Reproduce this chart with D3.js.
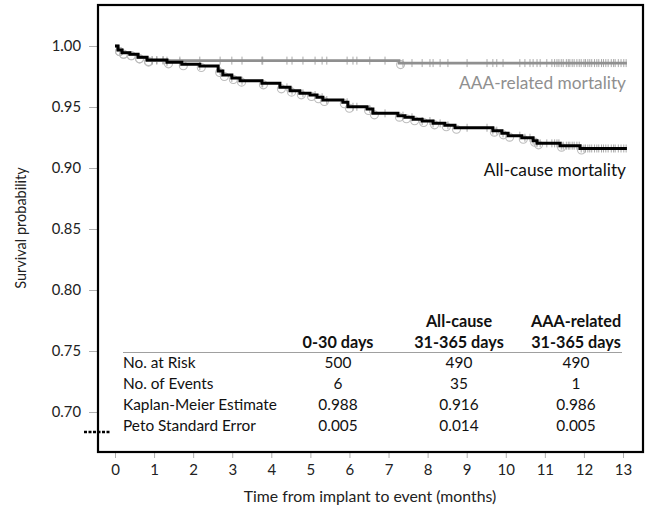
<!DOCTYPE html>
<html><head><meta charset="utf-8">
<script src="https://cdn.jsdelivr.net/npm/d3@7/dist/d3.min.js"></script>
<style>body{margin:0;background:#fff}svg{display:block}text{font-family:Lato,"Open Sans",sans-serif}</style>
</head><body>
<svg id="c" width="651" height="511"></svg>
<script>
// ---- data ----
const allCause = [[0,1.000],[0.077,0.9967],[0.18,0.9945],[0.38,0.9932],[0.59,0.9907],[0.82,0.9885],[1.33,0.9866],[1.71,0.9850],[2.17,0.9836],[2.64,0.9795],[2.76,0.9762],[2.99,0.9738],[3.20,0.9716],[3.76,0.9694],[4.22,0.9661],[4.48,0.9634],[4.73,0.9612],[4.99,0.9598],[5.17,0.9580],[5.32,0.9557],[5.83,0.9539],[5.96,0.9502],[6.45,0.9484],[6.60,0.9448],[7.24,0.9429],[7.42,0.9416],[7.63,0.9399],[7.86,0.9385],[8.14,0.9366],[8.44,0.9350],[8.70,0.9330],[9.67,0.9306],[9.90,0.9284],[10.06,0.9265],[10.41,0.9248],[10.70,0.9224],[10.80,0.9202],[11.39,0.9183],[11.90,0.9160],[13.1,0.9160]];
const aaaRelated = [[0,1.000],[0.077,0.9967],[0.18,0.9945],[0.38,0.9932],[0.59,0.9907],[0.82,0.9880],[7.27,0.9860],[13.1,0.9860]];
const censorTimes = [0.95,1.07,1.23,1.33,1.66,2.17,2.69,2.99,3.25,3.76,3.78,4.40,4.53,4.81,5.12,5.30,5.42,5.94,6.09,6.19,6.52,6.91,7.37,7.60,7.86,8.06,8.14,8.32,8.52,9.01,9.52,9.67,9.77,9.93,10.36,10.49,10.62,10.70,10.80,10.88,11.05,11.18,11.25,11.31,11.36,11.42,11.47,11.55,11.6,11.64,11.7,11.75,11.82,11.88,11.93,12.0,12.04,12.1,12.15,12.2,12.27,12.33,12.38,12.45,12.5,12.56,12.62,12.7,12.76,12.8,12.88,12.95,13.02,13.08];
const xTicks = [0,1,2,3,4,5,6,7,8,9,10,11,12,13];
const yTicks = [0.70,0.75,0.80,0.85,0.90,0.95,1.00];
const tableCols = ["0-30 days", "All-cause\n31-365 days", "AAA-related\n31-365 days"];
const tableRows = ["No. at Risk","No. of Events","Kaplan-Meier Estimate","Peto Standard Error"];
const tableValues = [["500","490","490"],["6","35","1"],["0.988","0.916","0.986"],["0.005","0.014","0.005"]];
const seriesLabels = ["AAA-related mortality","All-cause mortality"];

// ---- layout ----
const svg = d3.select("#c");
const frame = {l:98, r:643, t:5, b:452};
const x = d3.scaleLinear().domain([0,13]).range([115,623]);
const y = d3.scaleLinear().domain([0.70,1.00]).range([412,46]);

// y axis ticks
const yAx = svg.append("g").attr("transform",`translate(${frame.l},0)`)
  .call(d3.axisLeft(y).tickValues(yTicks).tickFormat(d3.format(".2f")).tickSize(9).tickSizeOuter(0));
yAx.select(".domain").remove();
yAx.selectAll(".tick line").attr("stroke","#b0b0b0");
yAx.selectAll(".tick text").attr("font-size","14.8px").attr("fill","#222").attr("x",-17);

// x axis ticks
const xAx = svg.append("g").attr("transform",`translate(0,${frame.b})`)
  .call(d3.axisBottom(x).tickValues(xTicks).tickSize(6).tickSizeOuter(0));
xAx.select(".domain").remove();
xAx.selectAll(".tick line").attr("stroke","#b0b0b0");
xAx.selectAll(".tick text").attr("font-size","15px").attr("fill","#222").attr("y",12);

// frame
svg.append("rect").attr("x",frame.l).attr("y",frame.t).attr("width",frame.r-frame.l).attr("height",frame.b-frame.t)
  .attr("fill","none").attr("stroke","#000").attr("stroke-width",2.2);

// axis break mark
svg.append("line").attr("x1",84).attr("x2",111).attr("y1",432).attr("y2",432)
  .attr("stroke","#000").attr("stroke-width",2.4).attr("stroke-dasharray","3,1.5");

// axis titles
svg.append("text").attr("transform","translate(26,228) rotate(-90)").attr("text-anchor","middle")
  .attr("font-size","14.5px").attr("fill","#222").text("Survival probability");
svg.append("text").attr("x",370).attr("y",502).attr("text-anchor","middle")
  .attr("font-size","15.8px").attr("fill","#222").text("Time from implant to event (months)");

const line = d3.line().x(d=>x(d[0])).y(d=>y(d[1])).curve(d3.curveStepAfter);
function valueAt(series,t){let v=series[0][1];for(const p of series){if(p[0]<=t)v=p[1];}return v;}

// circles on step corners (light gray)
const cg = svg.append("g");
[allCause, aaaRelated].forEach(s=>{
  cg.selectAll(null).data(s.slice(1,-1)).join("circle")
    .attr("cx",d=>x(d[0])+1.5).attr("cy",d=>y(d[1])+1.5).attr("r",4)
    .attr("fill","none").attr("stroke","#bdbdbd").attr("stroke-width",1.1);
});

// censor ticks
[allCause, aaaRelated].forEach(s=>{
  svg.append("g").selectAll("line").data(censorTimes).join("line")
    .attr("x1",d=>x(d)).attr("x2",d=>x(d))
    .attr("y1",d=>y(valueAt(s,d))-4).attr("y2",d=>y(valueAt(s,d))+4)
    .attr("stroke","#a8a8a8").attr("stroke-width",1);
});

// curves
svg.append("path").datum(aaaRelated).attr("d",line).attr("fill","none").attr("stroke","#8f8f8f").attr("stroke-width",2.6);
svg.append("path").datum(allCause).attr("d",line).attr("fill","none").attr("stroke","#000").attr("stroke-width",3);

// series labels
svg.append("text").attr("x",626).attr("y",89).attr("text-anchor","end").attr("font-size","17.3px").attr("fill","#8f8f8f").text(seriesLabels[0]);
svg.append("text").attr("x",626).attr("y",176).attr("text-anchor","end").attr("font-size","17.3px").attr("fill","#111").text(seriesLabels[1]);

// table
const colX = [338, 459, 576];
const tg = svg.append("g").attr("font-size","15.4px").attr("fill","#111");
tableCols.forEach((c,i)=>{
  const parts = c.split("\n");
  parts.forEach((p,j)=>{
    tg.append("text").attr("x",colX[i]).attr("y",348 - (parts.length-1-j)*21).attr("text-anchor","middle")
      .attr("font-weight","bold").attr("font-size","16.2px").text(p);
  });
});
svg.append("line").attr("x1",123).attr("x2",622).attr("y1",352.5).attr("y2",352.5).attr("stroke","#a0a0a0").attr("stroke-width",1);
tableRows.forEach((r,i)=>{
  const yy = 368 + i*21;
  tg.append("text").attr("x",123).attr("y",yy).text(r);
  tableValues[i].forEach((v,j)=>{
    tg.append("text").attr("x",colX[j]).attr("y",yy).attr("text-anchor","middle").text(v);
  });
});
</script>
</body></html>
